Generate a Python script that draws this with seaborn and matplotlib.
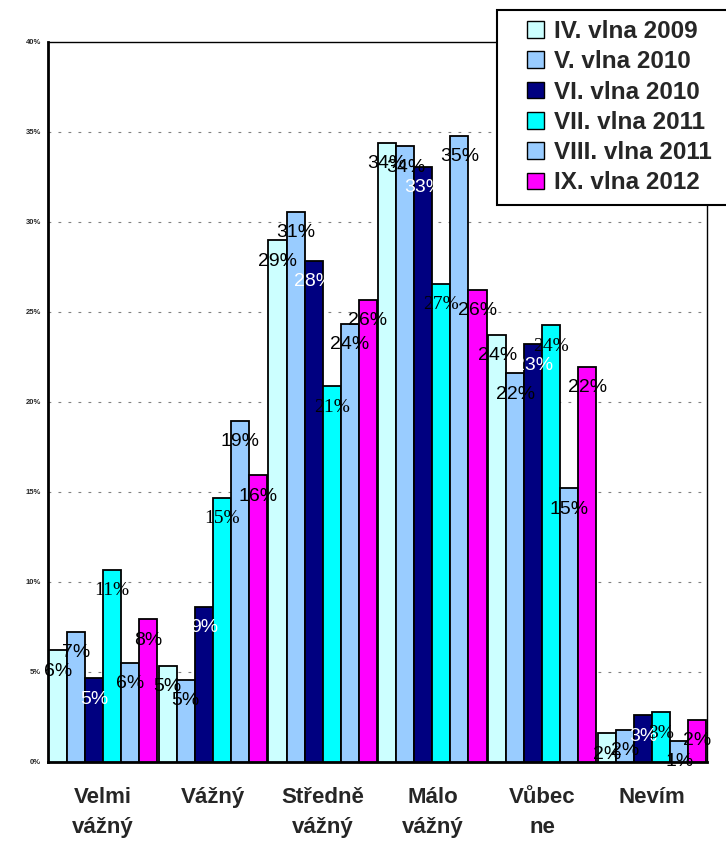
import matplotlib
matplotlib.use("Agg")
import matplotlib.pyplot as plt
from matplotlib.patches import Patch, Rectangle
import seaborn as sns
import pandas as pd
import numpy as np

categories = ["Velmi\nvážný", "Vážný", "Středně\nvážný", "Málo\nvážný", "Vůbec\nne", "Nevím"]
series = ["IV. vlna 2009", "V. vlna 2010", "VI. vlna 2010", "VII. vlna 2011", "VIII. vlna 2011", "IX. vlna 2012"]
colors = ["#CCFFFF", "#99CCFF", "#000080", "#00FFFF", "#99CCFF", "#FF00FF"]

iv_2009 = [6.2, 5.35, 28.98, 34.4, 23.74, 1.6]
v_2010 = [7.24, 4.56, 30.57, 34.2, 21.59, 1.8]
vi_2010 = [4.65, 8.63, 27.83, 33.07, 23.2, 2.6]
vii_2011 = [10.67, 14.68, 20.87, 26.57, 24.26, 2.76]
viii_2011 = [5.52, 18.94, 24.35, 34.78, 15.2, 1.18]
ix_2012 = [7.93, 15.93, 25.68, 26.22, 21.96, 2.33]
values = [iv_2009, v_2010, vi_2010, vii_2011, viii_2011, ix_2012]

yticks = [0, 5, 10, 15, 20, 25, 30, 35, 40]
ytick_labels = ["0%", "5%", "10%", "15%", "20%", "25%", "30%", "35%", "40%"]

rows = []
for s, vals in zip(series, values):
    for c, v in zip(categories, vals):
        rows.append({"cat": c, "series": s, "val": v})
df = pd.DataFrame(rows)

sns.set_style("white")
plt.rcParams["font.family"] = ["Liberation Sans", "DejaVu Sans"]

fig = plt.figure(figsize=(7.26, 8.41), dpi=100)
ax = fig.add_axes([48 / 726, 1 - 762 / 841, (707 - 48) / 726, (762 - 42) / 841])

pal = dict(zip(series, colors))
sns.barplot(data=df, x="cat", y="val", hue="series", order=categories, hue_order=series,
            palette=pal, width=0.985, edgecolor="black", linewidth=1.3, saturation=1,
            legend=False, ax=ax, zorder=3)

ax.set_ylim(0, 40)
ax.set_xlim(-0.5, len(categories) - 0.5)
ax.set_yticks(yticks)
ax.set_yticklabels(ytick_labels, fontsize=5.5, fontweight="bold")
ax.set_xlabel("")
ax.set_ylabel("")

# gridlines
for y in yticks[1:-1]:
    ax.axhline(y, color="#808080", lw=0.8, linestyle=(0, (2.5, 6.5)), zorder=1)

# x ticks: labels at centers, tick marks at boundaries
ax.set_xticks(range(len(categories)))
ax.set_xticklabels(categories, fontsize=16, fontweight="bold", linespacing=1.55)
ax.set_xticks(np.arange(-0.5, len(categories), 1), minor=True)
ax.tick_params(axis="x", which="major", length=0, pad=18)
ax.tick_params(axis="x", which="minor", length=5, width=1.2, color="black", direction="out")
ax.tick_params(axis="y", which="major", length=3, width=1, color="black", direction="out", pad=2)

for side in ["left", "bottom"]:
    ax.spines[side].set_color("black")
    ax.spines[side].set_linewidth(2)
for side in ["right", "top"]:
    ax.spines[side].set_color("black")
    ax.spines[side].set_linewidth(1)
    ax.spines[side].set_visible(True)

# data labels
containers = ax.containers
for i, cont in enumerate(containers):
    col = "white" if i == 2 else "black"
    fam = ["Liberation Serif"] if i == 3 else ["Liberation Sans"]
    for bar, v in zip(cont, values[i]):
        x = bar.get_x() + bar.get_width() / 2
        ax.annotate(f"{int(round(v))}%", xy=(x, v), xytext=(0, -15), textcoords="offset points",
                    ha="center", va="center", fontsize=14, color=col, family=fam, zorder=5)

# legend frame
frame = Rectangle((497 / 726, 1 - 205 / 841), (745 - 497) / 726, (205 - 10) / 841,
                  transform=fig.transFigure, facecolor="white", edgecolor="black",
                  lw=1.5, zorder=5)
fig.add_artist(frame)

handles = [Patch(facecolor=c, edgecolor="black", lw=1) for c in colors]
leg = fig.legend(handles, series, loc="upper left", bbox_to_anchor=(527 / 726, 1 - 20 / 841),
                 frameon=False, borderpad=0, borderaxespad=0, handlelength=0.68, handleheight=0.68,
                 handletextpad=0.42, labelspacing=0.3, prop={"weight": "bold", "size": 17.5})
leg.set_zorder(6)

fig.savefig("out.png", dpi=100)
